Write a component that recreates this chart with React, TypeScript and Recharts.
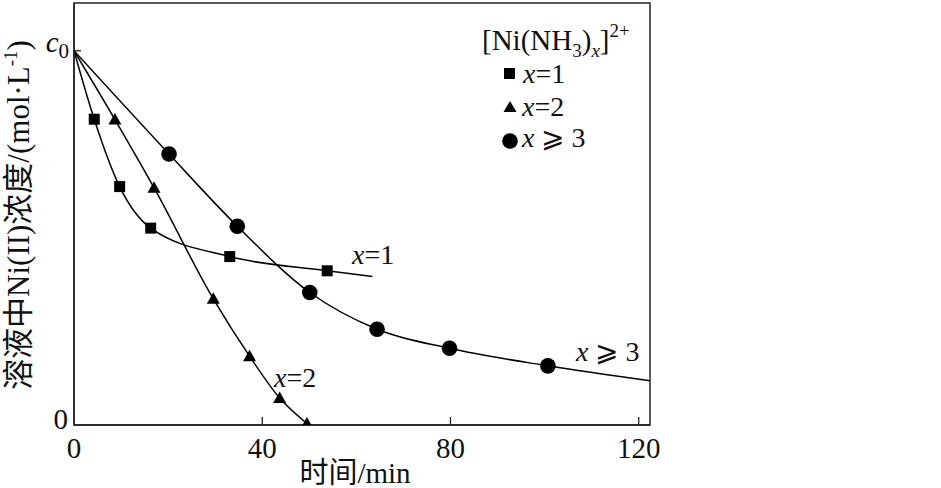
import { ComposedChart, Line, Scatter, XAxis, YAxis, ReferenceArea } from "recharts";

// time (min) and relative concentration (c/c0)
const sqT = [4.3, 9.7, 16.3, 33.1, 53.8];
const sqC = [0.817, 0.637, 0.526, 0.45, 0.412];
const sqEnd = [63.4, 0.397];

const triT = [8.7, 17.0, 29.6, 37.3, 43.7, 49.5];
const triC = [0.816, 0.634, 0.337, 0.184, 0.072, 0.004];

const cirT = [20.2, 34.7, 50.1, 64.4, 79.8, 100.7];
const cirC = [0.724, 0.531, 0.354, 0.256, 0.205, 0.158];
const cirEnd = [122.4, 0.118];

const xTicks = [0, 40, 80, 120];
const yTicks = [0, 1];
const X_MAX = 122.4;
const Y_MAX = 1.1275;

const FONT = "'Liberation Serif', 'Times New Roman', 'Noto Sans CJK SC', serif";

const pts = (t: number[], c: number[]) => t.map((v, i) => ({ t: v, c: c[i] }));
const curve = (t: number[], c: number[], end?: number[]) => {
  const out = [{ t: 0, c: 1 }, ...pts(t, c)];
  if (end) out.push({ t: end[0], c: end[1] });
  return out;
};

const sqPts = pts(sqT, sqC);
const triPts = pts(triT, triC);
const cirPts = pts(cirT, cirC);

const SquareDot = (p: any) => <rect x={p.cx - 5.5} y={p.cy - 5.5} width={11} height={11} fill="#000" />;
const TriDot = (p: any) => (
  <polygon points={`${p.cx},${p.cy - 6.5} ${p.cx + 6.5},${p.cy + 5} ${p.cx - 6.5},${p.cy + 5}`} fill="#000" />
);
const CircleDot = (p: any) => <circle cx={p.cx} cy={p.cy} r={7.8} fill="#000" />;

const XTick = (p: any) => {
  const v = p.payload.value;
  return (
    <g>
      {v !== 0 && <line x1={p.x} x2={p.x} y1={p.y} y2={p.y - 8} stroke="#222" strokeWidth={1.3} />}
      <text x={p.x} y={p.y + 33} textAnchor="middle" fontSize={29} fontFamily={FONT} fill="#111">
        {v}
      </text>
    </g>
  );
};

const YTick = (p: any) => {
  const v = p.payload.value;
  if (v === 0) {
    return (
      <text x={p.x - 6} y={p.y + 4} textAnchor="end" fontSize={29} fontFamily={FONT} fill="#111">
        0
      </text>
    );
  }
  return (
    <g>
      <line x1={p.x} x2={p.x + 7} y1={p.y} y2={p.y} stroke="#222" strokeWidth={1.3} />
      <text x={p.x - 5} y={p.y + 1} textAnchor="end" fontSize={29} fontFamily={FONT} fill="#111">
        <tspan fontStyle="italic">c</tspan>
        <tspan fontSize={21} dy={6}>0</tspan>
      </text>
    </g>
  );
};

export default function App() {
  return (
    <div style={{ position: "absolute", left: 0, top: 0, width: 941, height: 488, background: "#fff" }}>
      <ComposedChart width={941} height={488} margin={{ top: 3, right: 291, left: 14, bottom: 0 }}>
        <XAxis
          type="number"
          dataKey="t"
          domain={[0, X_MAX]}
          ticks={xTicks}
          allowDataOverflow
          height={63}
          tickSize={0}
          tickMargin={0}
          tickLine={false}
          axisLine={{ stroke: "#222", strokeWidth: 1.5 }}
          tick={<XTick />}
        />
        <YAxis
          type="number"
          dataKey="c"
          domain={[0, Y_MAX]}
          ticks={yTicks}
          allowDataOverflow
          width={60}
          tickSize={0}
          tickMargin={0}
          tickLine={false}
          axisLine={{ stroke: "#222", strokeWidth: 1.5 }}
          tick={<YTick />}
        />
        <ReferenceArea x1={0} x2={X_MAX} y1={0} y2={Y_MAX} fill="none" stroke="#222" strokeWidth={1.5} ifOverflow="visible" />
        <Line data={curve(sqT, sqC, sqEnd)} dataKey="c" type="monotone" stroke="#000" strokeWidth={1.5} dot={false} isAnimationActive={false} />
        <Line data={curve(triT, triC)} dataKey="c" type="monotone" stroke="#000" strokeWidth={1.5} dot={false} isAnimationActive={false} />
        <Line data={curve(cirT, cirC, cirEnd)} dataKey="c" type="monotone" stroke="#000" strokeWidth={1.5} dot={false} isAnimationActive={false} />
        <Scatter data={sqPts} dataKey="c" shape={SquareDot} isAnimationActive={false} />
        <Scatter data={triPts} dataKey="c" shape={TriDot} isAnimationActive={false} />
        <Scatter data={cirPts} dataKey="c" shape={CircleDot} isAnimationActive={false} />
      </ComposedChart>

      <svg width={941} height={488} style={{ position: "absolute", left: 0, top: 0, pointerEvents: "none" }} fontFamily={FONT} fill="#111">
        {/* axis titles */}
        <text x={355} y={483} textAnchor="middle" fontSize={29}>时间/min</text>
        <text transform="translate(29,215) rotate(-90)" textAnchor="middle" fontSize={31}>
          溶液中Ni(II)浓度/(mol·L<tspan fontSize={19} dy={-12}>-1</tspan><tspan dy={12}>)</tspan>
        </text>

        {/* curve labels */}
        <text x={352} y={264} fontSize={28}><tspan fontStyle="italic">x</tspan>=1</text>
        <text x={274} y={387} fontSize={28}><tspan fontStyle="italic">x</tspan>=2</text>
        <text x={576} y={361} fontSize={28}><tspan fontStyle="italic">x</tspan> ⩾ 3</text>

        {/* legend */}
        <text x={482} y={50} fontSize={29}>
          [Ni(NH<tspan fontSize={19} dy={7}>3</tspan><tspan dy={-7}>)</tspan>
          <tspan fontSize={19} dy={7} fontStyle="italic">x</tspan>
          <tspan dy={-7}>]</tspan><tspan fontSize={19} dy={-13}>2+</tspan>
        </text>
        <rect x={504} y={68} width={11} height={11} fill="#000" />
        <text x={523} y={83} fontSize={28}><tspan fontStyle="italic">x</tspan>=1</text>
        <polygon points="510,101 516.5,112 503.5,112" fill="#000" />
        <text x={522} y={116} fontSize={28}><tspan fontStyle="italic">x</tspan>=2</text>
        <circle cx={510} cy={141} r={7.8} fill="#000" />
        <text x={522} y={147} fontSize={28}><tspan fontStyle="italic">x</tspan> ⩾ 3</text>
      </svg>
    </div>
  );
}
